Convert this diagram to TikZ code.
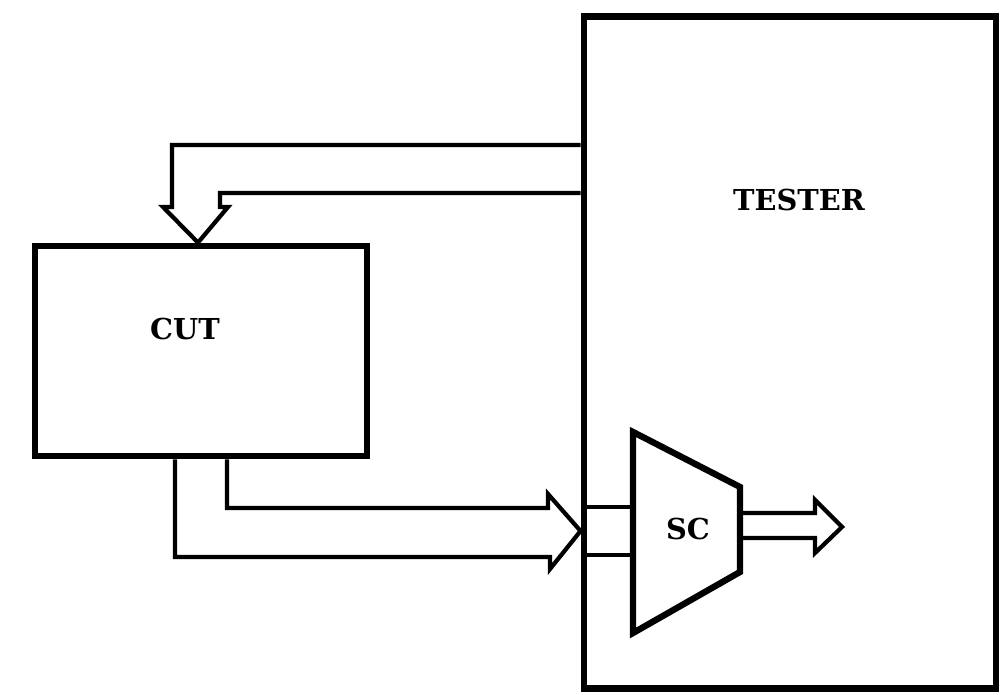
\documentclass[tikz,border=0pt]{standalone}
\usepackage{fontspec}
\newfontfamily\lblfont{DejaVu Serif}
\begin{document}
\begin{tikzpicture}[x=0.01cm, y=-0.01cm,
    box/.style={draw, line width=1.9pt, inner sep=0pt},
    fat/.style={line width=1.2pt, line join=miter},
    lbl/.style={font=\lblfont\bfseries\fontsize{8.2}{10}\selectfont, inner sep=0pt}]
    \useasboundingbox (0,0) rectangle (1000,695);

    % Bloki
    \node[box, minimum width=4.12cm, minimum height=6.71cm] (tester) at (790,352.5) {};
    \node[lbl] (testerlabel) at (799,200) {TESTER};
    \node[box, minimum width=3.32cm, minimum height=2.10cm] (cut) at (201,351) {};
    \node[lbl] (cutlabel) at (185,329) {CUT};

    % SC (trapez)
    \node[lbl] (sc) at (688,529) {SC};
    \draw[line width=1.8pt, line join=miter] (633,432) -- (740,487) -- (740,572) -- (633,633) -- cycle;

    % Szyna TESTER -> CUT
    \draw[fat] (tester.west |- 0,145) -- (172,145) -- (172,207) -- (163,207)
        -- (cut.north -| 198,0) -- (228,207) -- (220,207) -- (220,193) -- (tester.west |- 0,193);

    % Szyna CUT -> TESTER
    \draw[fat] (cut.south -| 175,0) -- (175,557) -- (550,557) -- (550,569)
        -- (tester.west |- 0,531) -- (548,494) -- (548,508) -- (227,508) -- (cut.south -| 227,0);

    % Polaczenie do SC
    \draw[fat] (tester.west |- 0,507) -- (633,507);
    \draw[fat] (tester.west |- 0,555) -- (633,555);

    % Wyjscie SC
    \draw[fat] (740,513) -- (815,513) -- (815,500) -- (842,527) -- (815,553) -- (815,538) -- (740,538);
\end{tikzpicture}
\end{document}
